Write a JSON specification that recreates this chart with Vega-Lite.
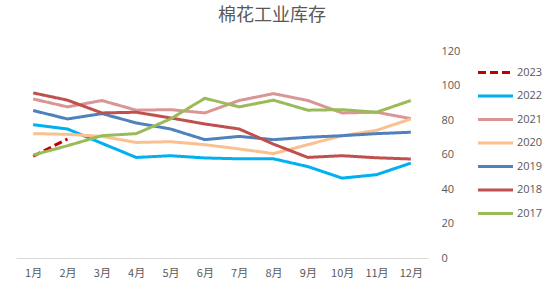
{
  "$schema": "https://vega.github.io/schema/vega-lite/v6.json",
  "autosize": "none",
  "width": 412,
  "height": 207,
  "padding": {"left": 16, "top": 51, "right": 122, "bottom": 34},
  "background": "white",
  "title": {
    "text": "棉花工业库存",
    "fontSize": 18,
    "font": "Noto Sans CJK SC",
    "fontWeight": "normal",
    "color": "#595959",
    "anchor": "start",
    "dx": 202,
    "offset": 20
  },
  "config": {
    "view": {"stroke": null},
    "font": "Open Sans"
  },
  "data": {
    "values": [
      {"month": "1月", "year": "2023", "value": 59},
      {"month": "2月", "year": "2023", "value": 69},

      {"month": "1月", "year": "2022", "value": 77.3},
      {"month": "2月", "year": "2022", "value": 74.8},
      {"month": "3月", "year": "2022", "value": 66.5},
      {"month": "4月", "year": "2022", "value": 58.3},
      {"month": "5月", "year": "2022", "value": 59.3},
      {"month": "6月", "year": "2022", "value": 58},
      {"month": "7月", "year": "2022", "value": 57.5},
      {"month": "8月", "year": "2022", "value": 57.5},
      {"month": "9月", "year": "2022", "value": 53},
      {"month": "10月", "year": "2022", "value": 46.3},
      {"month": "11月", "year": "2022", "value": 48.3},
      {"month": "12月", "year": "2022", "value": 55},

      {"month": "1月", "year": "2021", "value": 92.2},
      {"month": "2月", "year": "2021", "value": 87.6},
      {"month": "3月", "year": "2021", "value": 91.3},
      {"month": "4月", "year": "2021", "value": 85.7},
      {"month": "5月", "year": "2021", "value": 86},
      {"month": "6月", "year": "2021", "value": 84.1},
      {"month": "7月", "year": "2021", "value": 91.3},
      {"month": "8月", "year": "2021", "value": 95.3},
      {"month": "9月", "year": "2021", "value": 91.3},
      {"month": "10月", "year": "2021", "value": 84.1},
      {"month": "11月", "year": "2021", "value": 84.5},
      {"month": "12月", "year": "2021", "value": 80.8},

      {"month": "1月", "year": "2020", "value": 72.1},
      {"month": "2月", "year": "2020", "value": 71.7},
      {"month": "3月", "year": "2020", "value": 70.5},
      {"month": "4月", "year": "2020", "value": 67},
      {"month": "5月", "year": "2020", "value": 67.4},
      {"month": "6月", "year": "2020", "value": 65.7},
      {"month": "7月", "year": "2020", "value": 63.2},
      {"month": "8月", "year": "2020", "value": 60.5},
      {"month": "9月", "year": "2020", "value": 65.7},
      {"month": "10月", "year": "2020", "value": 70.9},
      {"month": "11月", "year": "2020", "value": 74},
      {"month": "12月", "year": "2020", "value": 80.6},

      {"month": "1月", "year": "2019", "value": 85.5},
      {"month": "2月", "year": "2019", "value": 80.6},
      {"month": "3月", "year": "2019", "value": 83.7},
      {"month": "4月", "year": "2019", "value": 78.3},
      {"month": "5月", "year": "2019", "value": 74.8},
      {"month": "6月", "year": "2019", "value": 68.6},
      {"month": "7月", "year": "2019", "value": 70.5},
      {"month": "8月", "year": "2019", "value": 68.6},
      {"month": "9月", "year": "2019", "value": 70},
      {"month": "10月", "year": "2019", "value": 70.9},
      {"month": "11月", "year": "2019", "value": 72.1},
      {"month": "12月", "year": "2019", "value": 72.9},

      {"month": "1月", "year": "2018", "value": 95.7},
      {"month": "2月", "year": "2018", "value": 91.5},
      {"month": "3月", "year": "2018", "value": 84.1},
      {"month": "4月", "year": "2018", "value": 84.5},
      {"month": "5月", "year": "2018", "value": 81.2},
      {"month": "6月", "year": "2018", "value": 77.7},
      {"month": "7月", "year": "2018", "value": 74.8},
      {"month": "8月", "year": "2018", "value": 66},
      {"month": "9月", "year": "2018", "value": 58.3},
      {"month": "10月", "year": "2018", "value": 59.3},
      {"month": "11月", "year": "2018", "value": 58.1},
      {"month": "12月", "year": "2018", "value": 57.4},

      {"month": "1月", "year": "2017", "value": 59.7},
      {"month": "2月", "year": "2017", "value": 65.1},
      {"month": "3月", "year": "2017", "value": 70.9},
      {"month": "4月", "year": "2017", "value": 72.1},
      {"month": "5月", "year": "2017", "value": 80.6},
      {"month": "6月", "year": "2017", "value": 92.6},
      {"month": "7月", "year": "2017", "value": 87.6},
      {"month": "8月", "year": "2017", "value": 91.5},
      {"month": "9月", "year": "2017", "value": 85.7},
      {"month": "10月", "year": "2017", "value": 86},
      {"month": "11月", "year": "2017", "value": 84.5},
      {"month": "12月", "year": "2017", "value": 91.3}
    ]
  },
  "mark": {"type": "line", "strokeWidth": 3, "strokeCap": "butt"},
  "encoding": {
    "x": {
      "field": "month",
      "type": "nominal",
      "sort": ["1月","2月","3月","4月","5月","6月","7月","8月","9月","10月","11月","12月"],
      "scale": {"paddingInner": 0, "paddingOuter": 0.5},
      "axis": {
        "title": null,
        "labelAngle": 0,
        "labelFont": "Noto Sans CJK SC",
        "labelFontSize": 11,
        "labelColor": "#595959",
        "labelPadding": 9,
        "ticks": false,
        "domainColor": "#d9d9d9",
        "domainWidth": 1
      }
    },
    "y": {
      "field": "value",
      "type": "quantitative",
      "scale": {"domain": [0, 120], "nice": false},
      "axis": {
        "orient": "right",
        "title": null,
        "values": [0, 20, 40, 60, 80, 100, 120],
        "grid": false,
        "domain": false,
        "ticks": false,
        "labelPadding": 13,
        "labelFontSize": 11,
        "labelColor": "#595959"
      }
    },
    "color": {
      "field": "year",
      "type": "nominal",
      "scale": {
        "domain": ["2023","2022","2021","2020","2019","2018","2017"],
        "range": ["#C00000","#00B0F0","#D99694","#FAC090","#4F81BD","#C0504D","#9BBB59"]
      },
      "legend": {
        "title": null,
        "orient": "none",
        "legendX": 468,
        "legendY": 10,
        "symbolType": "M-1.75,0H1.75",
        "symbolSize": 400,
        "symbolStrokeWidth": 3,
        "symbolFillColor": "transparent",
        "labelFontSize": 11,
        "labelColor": "#595959",
        "labelOffset": 10,
        "rowPadding": 5.5
      }
    },
    "strokeDash": {
      "field": "year",
      "type": "nominal",
      "scale": {
        "domain": ["2023","2022","2021","2020","2019","2018","2017"],
        "range": [[8,4],[1,0],[1,0],[1,0],[1,0],[1,0],[1,0]]
      },
      "legend": null
    }
  }
}
